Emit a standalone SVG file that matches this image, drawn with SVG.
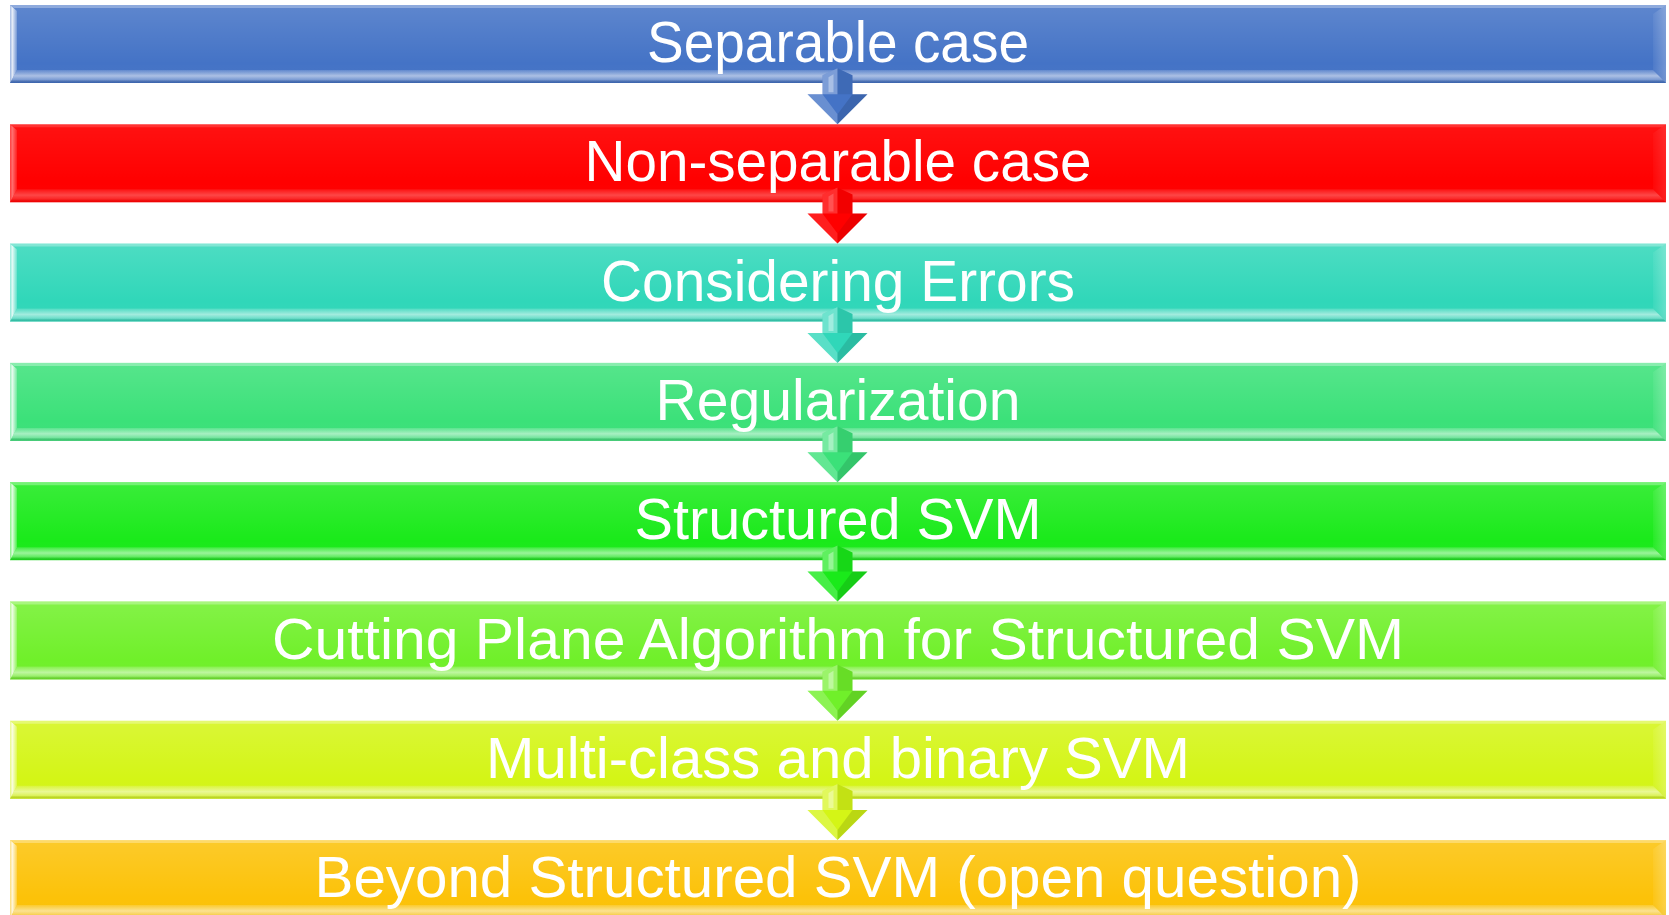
<svg xmlns="http://www.w3.org/2000/svg" width="1669" height="915" viewBox="0 0 1669 915">
<defs>
<linearGradient id="gMain" x1="0" y1="0" x2="0" y2="1">
<stop offset="0" stop-color="#fff" stop-opacity="0.14"/>
<stop offset="0.75" stop-color="#fff" stop-opacity="0"/>
<stop offset="1" stop-color="#000" stop-opacity="0.05"/>
</linearGradient>
<linearGradient id="gBot" x1="0" y1="0" x2="0" y2="1">
<stop offset="0" stop-color="#fff" stop-opacity="0.15"/>
<stop offset="0.45" stop-color="#fff" stop-opacity="0.55"/>
<stop offset="0.75" stop-color="#fff" stop-opacity="0.3"/>
<stop offset="1" stop-color="#000" stop-opacity="0.05"/>
</linearGradient>
<linearGradient id="gLeft" x1="0" y1="0" x2="1" y2="0">
<stop offset="0" stop-color="#fff" stop-opacity="0.45"/>
<stop offset="0.35" stop-color="#fff" stop-opacity="0.85"/>
<stop offset="1" stop-color="#fff" stop-opacity="0.2"/>
</linearGradient>
<linearGradient id="gRight" x1="0" y1="0" x2="1" y2="0">
<stop offset="0" stop-color="#fff" stop-opacity="0.05"/>
<stop offset="1" stop-color="#fff" stop-opacity="0.25"/>
</linearGradient>
<g id="bevel">
<rect x="0" y="0" width="1656" height="78" fill="url(#gMain)"/>
<polygon points="0,0 1656,0 1652,3 4,3" fill="#fff" fill-opacity="0.3"/>
<polygon points="0,0 7,6 7,65 0,78" fill="url(#gLeft)"/>
<polygon points="1656,0 1656,78 1643,65 1643,9" fill="url(#gRight)"/>
<polygon points="0,78 7,65 1643,65 1656,78" fill="url(#gBot)"/>
</g>
<g id="arrowShade">
<polygon points="-15,-49 0,-56 0,-30 -15,-30" fill="#fff" fill-opacity="0.3"/>
<polygon points="0,-56 15,-49 15,-30 0,-30" fill="#000" fill-opacity="0.08"/>
<polygon points="-30,-30 -15,-30 0,-10 0,0" fill="#fff" fill-opacity="0.2"/>
<polygon points="30,-30 15,-30 0,-10 0,0" fill="#000" fill-opacity="0.12"/>
<polygon points="-9,-47 -4,-50 -4,-32 -9,-32" fill="#fff" fill-opacity="0.35"/>
</g>
</defs>
<style>
.lbl{font-family:"Liberation Sans",Arial,sans-serif;font-size:58px;fill:#fff;text-anchor:middle}
.arrow{stroke:none}
</style>
<rect width="1669" height="915" fill="#fff"/>

<g id="node1" transform="translate(10,5)">
<rect width="1656" height="78" fill="#4473c6"/>
<use href="#bevel"/>
<text class="lbl" x="828" y="57" textLength="382" lengthAdjust="spacingAndGlyphs">Separable case</text>
</g>
<g id="node2" transform="translate(10,124.3)">
<rect width="1656" height="78" fill="#ff0000"/>
<use href="#bevel" opacity="0.5"/>
<text class="lbl" x="828" y="57" textLength="507" lengthAdjust="spacingAndGlyphs">Non-separable case</text>
</g>
<g id="node3" transform="translate(10,243.6)">
<rect width="1656" height="78" fill="#30d7b9"/>
<use href="#bevel"/>
<text class="lbl" x="828" y="57" textLength="474" lengthAdjust="spacingAndGlyphs">Considering Errors</text>
</g>
<g id="node4" transform="translate(10,362.9)">
<rect width="1656" height="78" fill="#3be179"/>
<use href="#bevel"/>
<text class="lbl" x="828" y="57" textLength="365" lengthAdjust="spacingAndGlyphs">Regularization</text>
</g>
<g id="node5" transform="translate(10,482.2)">
<rect width="1656" height="78" fill="#1aea1a"/>
<use href="#bevel"/>
<text class="lbl" x="828" y="57" textLength="407" lengthAdjust="spacingAndGlyphs">Structured SVM</text>
</g>
<g id="node6" transform="translate(10,601.5)">
<rect width="1656" height="78" fill="#70f02a"/>
<use href="#bevel"/>
<text class="lbl" x="828" y="57" textLength="1132" lengthAdjust="spacingAndGlyphs">Cutting Plane Algorithm for Structured SVM</text>
</g>
<g id="node7" transform="translate(10,720.8)">
<rect width="1656" height="78" fill="#d4f516"/>
<use href="#bevel"/>
<text class="lbl" x="828" y="57" textLength="704" lengthAdjust="spacingAndGlyphs">Multi-class and binary SVM</text>
</g>
<g id="node8" transform="translate(10,840.1)">
<rect width="1656" height="78" fill="#fcc208"/>
<use href="#bevel"/>
<text class="lbl" x="828" y="57" textLength="1047" lengthAdjust="spacingAndGlyphs">Beyond Structured SVM (open question)</text>
</g>

<g id="connectors">
<g transform="translate(837.5,124.3)">
<polygon class="arrow" points="-15,-49 0,-56 15,-49 15,-30 30,-30 0,0 -30,-30 -15,-30" fill="#4473c6"/>
<use href="#arrowShade"/>
</g>
<g transform="translate(837.5,243.6)">
<polygon class="arrow" points="-15,-49 0,-56 15,-49 15,-30 30,-30 0,0 -30,-30 -15,-30" fill="#ff0000"/>
<use href="#arrowShade" opacity="0.6"/>
</g>
<g transform="translate(837.5,362.9)">
<polygon class="arrow" points="-15,-49 0,-56 15,-49 15,-30 30,-30 0,0 -30,-30 -15,-30" fill="#30d7b9"/>
<use href="#arrowShade"/>
</g>
<g transform="translate(837.5,482.2)">
<polygon class="arrow" points="-15,-49 0,-56 15,-49 15,-30 30,-30 0,0 -30,-30 -15,-30" fill="#3be179"/>
<use href="#arrowShade"/>
</g>
<g transform="translate(837.5,601.5)">
<polygon class="arrow" points="-15,-49 0,-56 15,-49 15,-30 30,-30 0,0 -30,-30 -15,-30" fill="#1aea1a"/>
<use href="#arrowShade"/>
</g>
<g transform="translate(837.5,720.8)">
<polygon class="arrow" points="-15,-49 0,-56 15,-49 15,-30 30,-30 0,0 -30,-30 -15,-30" fill="#70f02a"/>
<use href="#arrowShade"/>
</g>
<g transform="translate(837.5,840.1)">
<polygon class="arrow" points="-15,-49 0,-56 15,-49 15,-30 30,-30 0,0 -30,-30 -15,-30" fill="#d4f516"/>
<use href="#arrowShade"/>
</g>
</g>
</svg>
